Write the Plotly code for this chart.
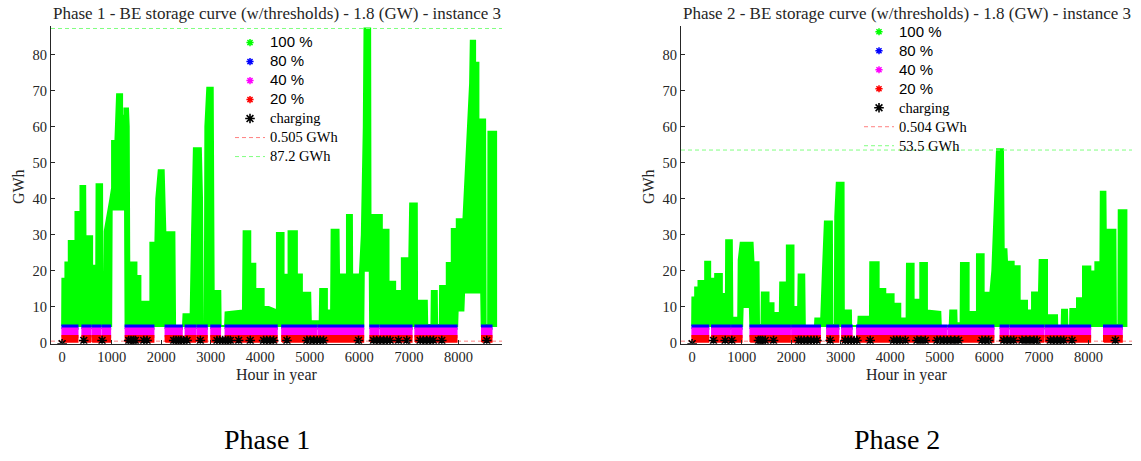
import plotly.graph_objects as go

W, H = 1141, 461

# axis limits and ticks (hours / GWh)
X_RANGE = [-225, 8880]
Y_RANGE = [-0.2, 88.0]
X_TICKS = list(range(0, 8001, 1000))
Y_TICKS = list(range(0, 81, 10))

# storage levels of the low-state classes (GWh)
BAND_80 = (3.9, 4.9)
BAND_40 = (1.6, 4.1)
BAND_20 = (0.3, 2.0)

# ---------------- Phase 1 ----------------
# upper envelope of the 100 % class
p1_top_hours = [0, 5, 66, 66, 134, 134, 269, 269, 370, 370, 465, 480, 495, 605, 605, 672, 685, 695,
                806, 815, 845, 860, 974, 1008, 1008, 1075, 1109, 1210, 1210, 1257, 1257, 1330, 1344,
                1360, 1378, 1500, 1500, 1580, 1580, 1781, 1781, 1882, 1900, 1950, 2050, 2084, 2266,
                2280, 2440, 2450, 2580, 2590, 2622, 2660, 2800, 2824, 2840, 2880, 2891, 2930, 3040,
                3059, 3193, 3200, 3290, 3300, 3650, 3664, 3798, 3798, 3900, 3900, 4068, 4068, 4170,
                4336, 4336, 4470, 4470, 4571, 4571, 4739, 4739, 4840, 4840, 5008, 5020, 5200, 5210,
                5345, 5345, 5430, 5440, 5580, 5590, 5750, 5750, 5850, 5855, 6010, 6050, 6090, 6104,
                6218, 6225, 6454, 6454, 6589, 6589, 6723, 6723, 6858, 6858, 6972, 6990, 7026, 7160,
                7165, 7362, 7370, 7455, 7463, 7563, 7570, 7625, 7630, 7765, 7765, 7866, 7866, 7967,
                7967, 8101, 8140, 8200, 8236, 8250, 8337, 8337, 8404, 8404, 8539, 8550, 8600, 8606,
                8761, 8761]
p1_top_gwh = [4.7, 17.8, 17.8, 22.3, 22.3, 28.3, 28.3, 36.3, 36.3, 43.5, 43.5, 8, 29.6, 29.6, 21.4, 21.4, 10, 44,
              44, 7.7, 7.7, 31, 40, 43, 56, 56, 69, 69, 63, 63, 65, 65, 60,
              4.7, 22.3, 22.3, 18.6, 18.6, 11.4, 11.4, 27.8, 27.8, 40, 47.9, 47.9, 30.7, 30.7,
              4.7, 4.7, 8, 8, 4.7, 30, 54, 54, 40, 5, 5, 60, 70.8, 70.8,
              14.4, 14.4, 4.7, 4.7, 8.5, 9, 31, 31, 22, 22, 15, 15, 10, 10,
              9, 30.5, 30.5, 18.9, 18.9, 31, 31, 19, 19, 13.9, 13.9, 6, 6, 15,
              15, 9, 9, 31.4, 31.4, 19, 19, 35.5, 35.5, 19, 19, 30, 60, 87.2,
              87.2, 35.5, 35.5, 31.4, 31.4, 17, 17, 14.4, 14.4, 23.5, 23.5, 8, 38.7, 38.7,
              11.7, 11.7, 5, 5, 14.4, 14.4, 5, 5, 15.8, 15.8, 22.2, 22.2, 31.6, 31.6,
              34.3, 34.3, 45, 65, 72, 83.8, 83.8, 77.7, 77.7, 62, 62, 5, 5, 58.6,
              58.6, 4.7]
# lower envelope of the 100 % class
p1_floor_hours = [0, 990, 1000, 1270, 1280, 6080, 6090, 6210, 6218, 7975, 7985, 8101, 8115, 8460,
                  8470, 8761]
p1_floor_gwh = [4.7, 4.7, 37, 37, 4.7, 4.7, 20, 20, 4.7, 4.7, 9, 9, 14, 14, 4.7, 4.7]
# hours spent in the low-state classes (80 % / 40 % / 20 %)
p1_low_spans = [(0, 315), (403, 571), (605, 772), (807, 974), (1277, 1848), (2083, 2420),
                (2487, 2688), (2723, 2925), (3005, 3193), (3294, 4337), (4437, 5143),
                (5176, 6083), (6218, 6386), (6420, 7059), (7126, 7967), (8471, 8673)]
p1_charging_hours = [0, 436, 806, 1344, 1390, 1440, 1478, 1646, 1714, 2252, 2300, 2350, 2400, 2450,
                     2521, 2790, 3126, 3180, 3240, 3300, 3350, 3395, 3563, 3798, 4067, 4130, 4200,
                     4269, 4538, 4941, 5010, 5080, 5150, 5210, 5277, 5983, 6285, 6350, 6420, 6490,
                     6560, 6622, 6790, 6958, 7227, 7290, 7360, 7430, 7496, 7664, 8572]
p1_charging_gwh = [-0.2] + [0.7] * (len(p1_charging_hours) - 1)
p1_min_gwh = 0.505
p1_max_gwh = 87.2

# ---------------- Phase 2 ----------------
p2_top_hours = [0, 5, 61, 61, 128, 128, 263, 263, 364, 364, 431, 440, 458, 465, 600, 600, 667, 680,
                687, 801, 812, 930, 940, 980, 1220, 1239, 1340, 1350, 1400, 1407, 1542, 1542, 1643,
                1643, 1770, 1778, 1912, 1912, 2046, 2046, 2140, 2150, 2263, 2275, 2480, 2487, 2588,
                2600, 2640, 2680, 2821, 2830, 2880, 2889, 2920, 3057, 3062, 3205, 3210, 3350, 3360,
                3590, 3596, 3765, 3765, 3899, 3899, 4067, 4067, 4202, 4202, 4330, 4337, 4471, 4471,
                4606, 4606, 4740, 4740, 5010, 5020, 5200, 5211, 5333, 5340, 5420, 5427, 5582, 5582,
                5750, 5750, 5885, 5885, 6020, 6060, 6120, 6155, 6275, 6290, 6345, 6357, 6491, 6491,
                6612, 6612, 6760, 6760, 6862, 6862, 6963, 6990, 7016, 7164, 7164, 7366, 7370, 7460,
                7468, 7568, 7575, 7630, 7635, 7770, 7770, 7891, 7891, 8039, 8039, 8140, 8140, 8242,
                8250, 8343, 8350, 8545, 8555, 8605, 8612, 8767, 8767]
p2_top_gwh = [4.7, 12.6, 12.6, 15.4, 15.4, 17.2, 17.2, 22.5, 22.5, 17.8, 17.8, 5, 5, 19.1, 19.1, 13.6, 13.6, 8,
              28.5, 28.5, 7, 7, 23, 27.8, 27.8, 22.4, 22.4, 5, 5, 14, 14, 11, 11,
              8.3, 8.3, 16.8, 16.8, 27, 27, 10, 10, 19, 19, 4.7, 4.7, 6.8, 6.8,
              4.7, 20, 33.7, 33.7, 5, 5, 35, 44.4, 44.4, 9, 9, 4.7, 4.7, 7.3,
              7.3, 22.4, 22.4, 15, 15, 13.5, 13.5, 10.9, 10.9, 6.8, 6.8, 22, 22, 12,
              12, 22.2, 22.2, 9, 8.6, 4.7, 4.7, 9, 9, 5.5, 5.5, 22.2, 22.2, 8.6,
              8.6, 24.6, 24.6, 13.9, 13.9, 20, 45, 53.7, 53.7, 26, 26, 22.5, 22.5, 21.3,
              21.3, 11.7, 11.7, 9, 9, 14, 14, 6, 23, 23, 7.7, 7.7, 4.7, 4.7,
              9.2, 9.2, 4.7, 4.7, 9.4, 9.4, 12.4, 12.4, 21.2, 21.2, 19.8, 19.8, 22.4, 22.4,
              41.9, 41.9, 31.4, 31.4, 5, 5, 36.8, 36.8, 4.7]
p2_floor_hours = [0, 1010, 1020, 1165, 1175, 8767]
p2_floor_gwh = [4.7, 4.7, 10, 10, 4.7, 4.7]
p2_low_spans = [(0, 330), (397, 767), (801, 1003), (1172, 1979), (2013, 2585), (2720, 2956),
                (3023, 3225), (3326, 5144), (5178, 6087), (6222, 6390), (6424, 7097),
                (7131, 8040), (8309, 8679)]
p2_charging_hours = [0, 431, 667, 801, 1340, 1380, 1420, 1475, 1643, 2148, 2200, 2260, 2330, 2400,
                     2460, 2518, 2787, 3090, 3150, 3210, 3270, 3326, 3595, 4067, 4130, 4200, 4303,
                     4539, 4620, 4707, 4943, 5010, 5080, 5150, 5220, 5300, 5380, 5851, 5920, 5986,
                     6289, 6360, 6430, 6491, 6660, 6740, 6820, 6900, 6963, 7232, 7300, 7370, 7440,
                     7501, 7669, 8544]
p2_charging_gwh = [-0.2] + [0.7] * (len(p2_charging_hours) - 1)
p2_min_gwh = 0.504
p2_max_gwh = 53.5

GREEN, BLUE, MAGENTA, RED, BLACK = "#00ff00", "#0000ff", "#ff00ff", "#ff0000", "#000000"
SERIF = "Liberation Serif"
SANS = "Liberation Sans"
AXIS_COLOR = "#262626"


def envelope(top_h, top_v, floor_h, floor_v):
    """Closed outline between the upper and lower envelopes."""
    xs = list(top_h) + list(floor_h)[::-1] + [top_h[0]]
    ys = list(top_v) + list(floor_v)[::-1] + [top_v[0]]
    return xs, ys


def band(spans, lo_hi):
    lo, hi = lo_hi
    xs, ys = [], []
    for a, b in spans:
        xs += [a, b, b, a, a, None]
        ys += [lo, lo, hi, hi, lo, None]
    return xs, ys


def sans(label):
    return f'<span style="font-family:{SANS};font-size:15px">{label}</span>'


def serif(label):
    return f'<span style="font-size:14.5px">{label}</span>'


fig = go.Figure()


def add_phase(n, top_h, top_v, floor_h, floor_v, spans, ch_h, ch_v, vmin, vmax):
    xa = "x" if n == 1 else "x2"
    ya = "y" if n == 1 else "y2"
    lg = "legend" if n == 1 else "legend2"
    common = dict(xaxis=xa, yaxis=ya, legend=lg, hoverinfo="skip")

    # legend entries for the storage classes
    for rank, (name, col) in enumerate([(sans("100 %"), GREEN), (sans("80 %"), BLUE),
                                        (sans("40 %"), MAGENTA), (sans("20 %"), RED)]):
        fig.add_trace(go.Scatter(x=[None], y=[None], mode="markers", name=name, legendrank=rank + 1,
                                 marker=dict(symbol="asterisk-open", size=6, color=col,
                                             line=dict(color=col, width=1.5)), **common))

    gx, gy = envelope(top_h, top_v, floor_h, floor_v)
    fig.add_trace(go.Scatter(x=gx, y=gy, mode="lines", fill="toself", fillcolor=GREEN,
                             line=dict(color=GREEN, width=2), showlegend=False, **common))

    fig.add_trace(go.Scatter(x=X_RANGE, y=[vmin, vmin], mode="lines", name=serif(f"{vmin:g} GWh"),
                             legendrank=6, line=dict(color="#ff8080", width=1, dash="4px,3px"),
                             **common))
    fig.add_trace(go.Scatter(x=X_RANGE, y=[vmax, vmax], mode="lines", name=serif(f"{vmax:g} GWh"),
                             legendrank=7, line=dict(color="#80ff80", width=1, dash="4px,3px"),
                             **common))

    for lohi, col in [(BAND_80, BLUE), (BAND_40, MAGENTA), (BAND_20, RED)]:
        bx, by = band(spans, lohi)
        fig.add_trace(go.Scatter(x=bx, y=by, mode="lines", fill="toself", fillcolor=col,
                                 line=dict(color=col, width=1.5), showlegend=False, **common))

    fig.add_trace(go.Scatter(x=ch_h, y=ch_v, mode="markers", name=serif("charging"), legendrank=5,
                             marker=dict(symbol="asterisk-open", size=8, color=BLACK,
                                         line=dict(color=BLACK, width=1.6)), **common))


add_phase(1, p1_top_hours, p1_top_gwh, p1_floor_hours, p1_floor_gwh, p1_low_spans,
          p1_charging_hours, p1_charging_gwh, p1_min_gwh, p1_max_gwh)
add_phase(2, p2_top_hours, p2_top_gwh, p2_floor_hours, p2_floor_gwh, p2_low_spans,
          p2_charging_hours, p2_charging_gwh, p2_min_gwh, p2_max_gwh)

axis_common = dict(showline=True, linecolor=AXIS_COLOR, linewidth=1, ticks="inside", ticklen=4,
                   tickcolor=AXIS_COLOR, showgrid=False, zeroline=False,
                   tickfont=dict(family=SERIF, size=14.5, color="#262626"))
ydom = [(H - 349) / H, (H - 26) / H]

legend_common = dict(xanchor="left", yanchor="top", bgcolor="rgba(0,0,0,0)",
                     font=dict(family=SERIF, size=12.3, color="black"), itemwidth=30,
                     tracegroupgap=0)

fig.update_layout(
    width=W, height=H, margin=dict(l=0, r=0, t=0, b=0),
    paper_bgcolor="white", plot_bgcolor="white",
    xaxis=dict(domain=[51 / W, 502 / W], range=X_RANGE, tickvals=X_TICKS, anchor="y", **axis_common),
    yaxis=dict(domain=ydom, range=Y_RANGE, tickvals=Y_TICKS, anchor="x", **axis_common),
    xaxis2=dict(domain=[681 / W, 1132 / W], range=X_RANGE, tickvals=X_TICKS, anchor="y2", **axis_common),
    yaxis2=dict(domain=ydom, range=Y_RANGE, tickvals=Y_TICKS, anchor="x2", **axis_common),
    legend=dict(x=230 / W, y=1 - 28.5 / H, **legend_common),
    legend2=dict(x=859 / W, y=1 - 17.5 / H, **legend_common),
    showlegend=True,
)

texts = [
    ("Phase 1 - BE storage curve (w/thresholds) - 1.8 (GW) - instance 3", 276.5, 14, 17, 0),
    ("Phase 2 - BE storage curve (w/thresholds) - 1.8 (GW) - instance 3", 906.5, 14, 17, 0),
    ("Hour in year", 276.5, 381, 16, 0),
    ("Hour in year", 906.5, 381, 16, 0),
    ("GWh", 18, 190, 16, -90),
    ("GWh", 648, 190, 16, -90),
    ("Phase 1", 267, 446, 28, 0),
    ("Phase 2", 897, 446, 28, 0),
]
for txt, px, py, size, ang in texts:
    fig.add_annotation(text=txt, x=px / W, y=1 - py / H, xref="paper", yref="paper",
                       xanchor="center", yanchor="middle", showarrow=False, textangle=ang,
                       font=dict(family=SERIF, size=size, color="#262626" if size < 20 else "black"))

fig.write_html("out.html")
